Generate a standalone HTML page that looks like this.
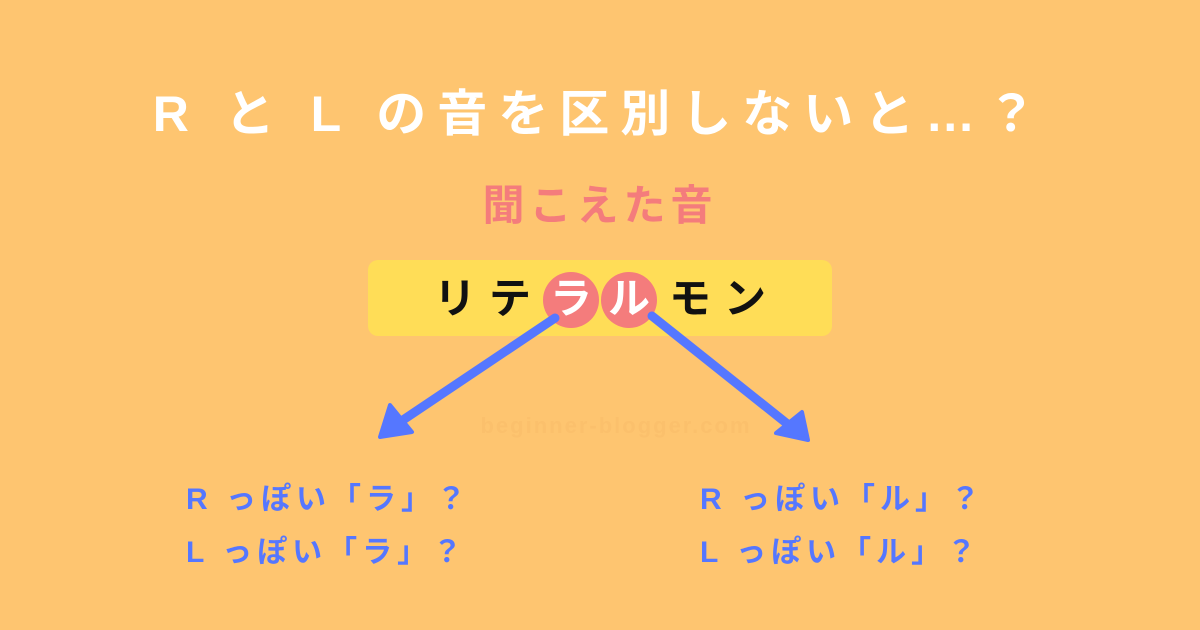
<!DOCTYPE html>
<html><head><meta charset="utf-8"><style>
body{margin:0;width:1200px;height:630px;background:#FEC570;position:relative;overflow:hidden;font-family:"Liberation Sans","Noto Sans CJK JP",sans-serif;font-weight:bold}
.a{position:absolute;white-space:nowrap}
.t{left:0;width:1200px;text-align:center;top:74px;font-size:50px;color:#fff;letter-spacing:11px}
.s{left:0;width:1200px;text-align:center;top:172px;font-size:42px;color:#F47C7C;letter-spacing:5px}
.box{left:368px;top:260px;width:464px;height:76px;background:#FFDD57;border-radius:10px}
.c{width:56px;height:56px;border-radius:50%;background:#F47C7C}
.k{font-size:42px;color:#111;width:60px;text-align:center;top:273px;line-height:52px}
.b{font-size:30px;color:#5577FF;letter-spacing:5px}
</style></head><body>
<div class="a t">R と L の音を区別しないと…？</div>
<div class="a s">聞こえた音</div>
<div class="a box"></div>
<div class="a c" style="left:543px;top:272px"></div>
<div class="a c" style="left:601px;top:272px"></div>
<div class="a k" style="left:425px">リ</div>
<div class="a k" style="left:480px">テ</div>
<div class="a k" style="left:541px;color:#fff">ラ</div>
<div class="a k" style="left:599px;color:#fff">ル</div>
<div class="a k" style="left:660px">モ</div>
<div class="a k" style="left:715px">ン</div>
<svg class="a" style="left:0;top:0" width="1200" height="630">
<g stroke="#5577FF" stroke-width="9" stroke-linecap="round">
<line x1="555" y1="318" x2="400" y2="422"/>
<line x1="652" y1="316" x2="790" y2="426"/>
</g>
<polygon points="380,437 390,405 412,432" fill="#5577FF" stroke="#5577FF" stroke-width="4" stroke-linejoin="round"/>
<polygon points="808,440 776,433 802,412" fill="#5577FF" stroke="#5577FF" stroke-width="4" stroke-linejoin="round"/>
<text x="616" y="433" font-size="22" fill="#FBC06C" text-anchor="middle" font-family="Liberation Sans" letter-spacing="2">beginner-blogger.com</text>
</svg>
<div class="a b" style="left:186px;top:474px">R っぽい「ラ」？</div>
<div class="a b" style="left:186px;top:527px">L っぽい「ラ」？</div>
<div class="a b" style="left:700px;top:474px">R っぽい「ル」？</div>
<div class="a b" style="left:700px;top:527px">L っぽい「ル」？</div>
</body></html>
